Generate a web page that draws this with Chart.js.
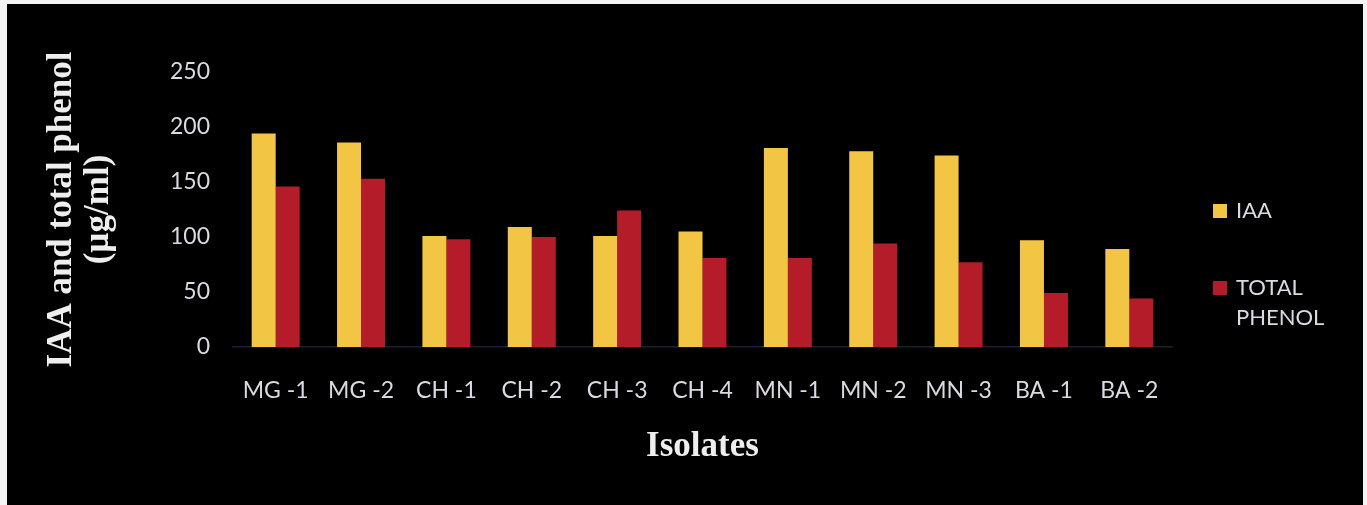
<!DOCTYPE html>
<html>
<head>
<meta charset="utf-8">
<script src="https://cdn.jsdelivr.net/npm/chart.js@4"></script>
<style>
  html, body { margin: 0; padding: 0; background: #f4f4f4; }
  #wrap { position: absolute; left: 7px; top: 4px; width: 1356px; height: 502px; background: #000; }
</style>
</head>
<body>
<div id="wrap"><canvas id="myChart"></canvas></div>
<script>
const isolates = ['MG -1', 'MG -2', 'CH -1', 'CH -2', 'CH -3', 'CH -4', 'MN -1', 'MN -2', 'MN -3', 'BA -1', 'BA -2'];
const iaa = [194, 186, 101, 109, 101, 105, 181, 178, 174, 97, 89];
const totalPhenol = [146, 153, 98, 100, 124, 81, 81, 94, 77, 49, 44];
const yTicks = [0, 50, 100, 150, 200, 250];
const legendLines = [['IAA'], ['TOTAL', 'PHENOL']];

const tickFont = { family: 'Lato', size: 23 };
const titleFont = { family: 'Liberation Serif', size: 35, weight: 'bold', lineHeight: 1.06 };

// legend drawn by hand to the right of the plot
const sideLegend = {
  id: 'sideLegend',
  afterDraw(chart) {
    const ctx = chart.ctx;
    const x = chart.chartArea.right + 41;
    const rows = [207, 284];
    ctx.save();
    ctx.font = '22px Lato';
    ctx.textBaseline = 'middle';
    chart.data.datasets.forEach((ds, i) => {
      ctx.fillStyle = ds.backgroundColor;
      ctx.fillRect(x, rows[i] - 7, 14, 14);
      ctx.fillStyle = '#dcd9e2';
      legendLines[i].forEach((line, j) => {
        ctx.fillText(line, x + 23, rows[i] + j * 30);
      });
    });
    ctx.restore();
  }
};

new Chart(document.getElementById('myChart'), {
  type: 'bar',
  data: {
    labels: isolates,
    datasets: [
      { label: 'IAA', data: iaa, backgroundColor: '#F3C545' },
      { label: 'TOTAL PHENOL', data: totalPhenol, backgroundColor: '#B51C2A' }
    ]
  },
  options: {
    responsive: true,
    maintainAspectRatio: false,
    animation: false,
    categoryPercentage: 0.562,
    barPercentage: 1,
    layout: { padding: { top: 68, right: 191, bottom: 39, left: 0 } },
    plugins: { legend: { display: false }, tooltip: { enabled: false } },
    scales: {
      x: {
        grid: { display: false, drawTicks: false },
        border: { display: true, color: '#1d2035', width: 1.5 },
        ticks: { color: '#dcd9e2', font: tickFont, padding: 30, maxRotation: 0 },
        title: { display: true, text: 'Isolates', color: '#eeeeee', font: titleFont, padding: { top: 0, bottom: 1 } },
        afterFit(scale) { scale.height = 120; }
      },
      y: {
        min: 0,
        max: 250,
        afterBuildTicks(scale) { scale.ticks = yTicks.map(v => ({ value: v })); },
        grid: { display: false, drawTicks: false },
        border: { display: false },
        ticks: { color: '#dcd9e2', font: tickFont, padding: 23 },
        title: { display: true, text: ['IAA and total phenol', '(µg/ml)'], color: '#eeeeee', font: titleFont, padding: { top: 36, bottom: 0 } },
        afterFit(scale) { scale.width = 226; }
      }
    }
  },
  plugins: [sideLegend]
});
</script>
</body>
</html>
